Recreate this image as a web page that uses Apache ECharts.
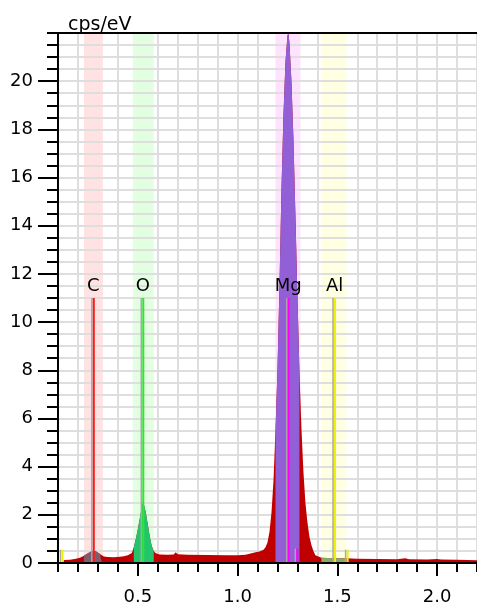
<!DOCTYPE html>
<html>
<head>
<meta charset="utf-8">
<script src="https://cdn.jsdelivr.net/npm/echarts@6/dist/echarts.min.js"></script>
<style>
  html, body { margin: 0; padding: 0; background: #fff; }
  #chart { width: 477px; height: 603px; }
</style>
</head>
<body>
<div id="chart"></div>
<script>
// spectrum (keV, cps/eV)
const energy = [0.125, 0.13, 0.16, 0.19, 0.21, 0.22, 0.23, 0.24, 0.25, 0.26, 0.27, 0.28, 0.29, 0.30, 0.31, 0.32, 0.33, 0.35, 0.38, 0.41,
  0.43, 0.45, 0.46, 0.47, 0.48, 0.49, 0.50, 0.51, 0.52, 0.527, 0.54, 0.55, 0.56, 0.57, 0.58, 0.59, 0.61, 0.65, 0.68, 0.69,
  0.70, 0.75, 0.85, 0.95, 1.00, 1.04, 1.07, 1.09, 1.11, 1.12, 1.13, 1.14, 1.15, 1.16, 1.17, 1.18, 1.19, 1.20, 1.21, 1.22,
  1.23, 1.24, 1.25, 1.255, 1.26, 1.27, 1.28, 1.29, 1.30, 1.31, 1.32, 1.33, 1.34, 1.35, 1.36, 1.37, 1.38, 1.39, 1.40, 1.42,
  1.45, 1.50, 1.545, 1.60, 1.70, 1.80, 1.84, 1.86, 1.95, 2.00, 2.02, 2.10, 2.20];
const cps = [0, 0.12, 0.14, 0.18, 0.22, 0.26, 0.30, 0.34, 0.40, 0.46, 0.50, 0.52, 0.49, 0.44, 0.37, 0.31, 0.27, 0.25, 0.24, 0.26,
  0.28, 0.32, 0.36, 0.42, 0.65, 1.0, 1.4, 1.85, 2.3, 2.55, 2.1, 1.6, 1.1, 0.7, 0.5, 0.4, 0.35, 0.34, 0.35, 0.45,
  0.36, 0.34, 0.33, 0.32, 0.32, 0.34, 0.40, 0.45, 0.48, 0.5, 0.55, 0.65, 0.85, 1.3, 2.1, 3.4, 5.5, 8.0, 11.5, 15.5,
  18.6, 20.8, 21.9, 22.0, 21.6, 20.0, 17.6, 14.4, 11.1, 8.0, 5.6, 3.8, 2.5, 1.7, 1.1, 0.75, 0.5, 0.32, 0.25, 0.22,
  0.21, 0.2, 0.2, 0.18, 0.17, 0.16, 0.2, 0.16, 0.15, 0.17, 0.15, 0.13, 0.11];

// element windows
const elements = ['C', 'O', 'Mg', 'Al'];
const bandLo = [0.23, 0.475, 1.19, 1.42];
const bandHi = [0.325, 0.58, 1.315, 1.545];
const bandColor = ['#ffe2e2', '#e2ffe2', '#ffe2ff', '#ffffe2'];
const fitColor = ['#7f5d6b', '#22c46e', '#925fd6', '#8fa66a'];

// element lines
const lineEnergy = [0.277, 0.525, 1.254, 1.486];
const lineHeight = [11, 11, 11, 11];
const lineColor = ['#ff1a1a', '#2ee62e', '#ff00ff', '#f0f000'];

// small marker lines
const markEnergy = [0.12, 1.297, 1.549];
const markHeight = [0.55, 0.6, 0.55];
const markColor = ['#f0f000', '#ff00ff', '#f0f000'];

// ticks
const xMajor = [0.5, 1.0, 1.5, 2.0];
const yMajor = [0, 2, 4, 6, 8, 10, 12, 14, 16, 18, 20];

const FONT = 'DejaVu Sans';
const spectrum = energy.map((e, i) => [e, cps[i]]);

function windowData(i) {
  return spectrum.filter(p => p[0] >= bandLo[i] - 1e-9 && p[0] <= bandHi[i] + 1e-9);
}

const chart = echarts.init(document.getElementById('chart'));

const axisBlack = { color: '#000', width: 2 };

const fitSeries = elements.map((name, i) => ({
  name: name + ' fit',
  type: 'line',
  xAxisIndex: 0,
  yAxisIndex: 0,
  data: windowData(i),
  showSymbol: false,
  lineStyle: { width: 0 },
  areaStyle: { color: fitColor[i], opacity: 1 },
  z: 3
}));

function renderLine(labels, colors) {
  return function (params, api) {
    const i = api.value(2);
    const p0 = api.coord([api.value(0), 0]);
    const p1 = api.coord([api.value(0), api.value(1)]);
    const children = [
      { type: 'line', shape: { x1: p0[0] - 1.5, y1: p0[1], x2: p1[0] - 1.5, y2: p1[1] },
        style: { stroke: '#a8a8a8', lineWidth: 1.5 } },
      { type: 'line', shape: { x1: p0[0] + 0.5, y1: p0[1], x2: p1[0] + 0.5, y2: p1[1] },
        style: { stroke: colors[i], lineWidth: 2 } }
    ];
    if (labels) {
      children.push({ type: 'text', style: { text: labels[i], x: p1[0], y: p1[1] - 3,
        align: 'center', verticalAlign: 'bottom', fontSize: 18, fontFamily: FONT, fill: '#000' } });
    }
    return { type: 'group', children: children };
  };
}

const option = {
  animation: false,
  backgroundColor: '#fff',
  title: {
    text: 'cps/eV', left: 63, top: 11,
    textStyle: { fontSize: 19, fontWeight: 'normal', fontFamily: FONT, color: '#000' }
  },
  grid: { left: 58, top: 33, right: 0, bottom: 40, outerBoundsMode: 'none', containLabel: false },
  xAxis: [
    { // vertical grid only
      type: 'value', min: 0.1, max: 2.2, interval: 0.1, position: 'bottom', z: 0,
      axisLine: { show: false }, axisTick: { show: false }, axisLabel: { show: false },
      splitLine: { show: true, lineStyle: { color: '#dedede', width: 2 } }
    },
    { // axis line + minor ticks
      type: 'value', min: 0.1, max: 2.2, interval: 0.1, position: 'bottom', z: 5,
      axisLine: { show: true, onZero: false, lineStyle: axisBlack },
      axisTick: { show: true, length: 9, lineStyle: axisBlack },
      axisLabel: { show: false }, splitLine: { show: false }
    },
    { // major ticks + labels
      type: 'value', min: 0.1, max: 2.2, position: 'bottom', z: 5,
      axisLine: { show: false },
      axisTick: { show: true, length: 13, customValues: xMajor, lineStyle: axisBlack },
      axisLabel: { show: true, customValues: xMajor, margin: 25, fontSize: 18, fontFamily: FONT, color: '#000',
        formatter: v => v.toFixed(1) },
      splitLine: { show: false }
    },
    { // top border
      type: 'value', min: 0.1, max: 2.2, position: 'top', z: 5,
      axisLine: { show: true, onZero: false, lineStyle: axisBlack },
      axisTick: { show: false }, axisLabel: { show: false }, splitLine: { show: false }
    }
  ],
  yAxis: [
    { // horizontal grid, above the bands
      type: 'value', min: 0, max: 22, interval: 0.5, position: 'left', z: 1.5,
      axisLine: { show: false }, axisTick: { show: false }, axisLabel: { show: false },
      splitLine: { show: true, lineStyle: { color: '#dedede', width: 2 } }
    },
    {
      type: 'value', min: 0, max: 22, interval: 0.5, position: 'left', z: 5,
      axisLine: { show: true, onZero: false, lineStyle: axisBlack },
      axisTick: { show: true, length: 11, lineStyle: axisBlack },
      axisLabel: { show: false }, splitLine: { show: false }
    },
    {
      type: 'value', min: 0, max: 22, position: 'left', z: 5,
      axisLine: { show: false },
      axisTick: { show: true, length: 20, customValues: yMajor, lineStyle: axisBlack },
      axisLabel: { show: true, customValues: yMajor, margin: 25, fontSize: 18, fontFamily: FONT, color: '#000' },
      splitLine: { show: false }
    }
  ],
  series: [
    {
      name: 'bands',
      type: 'custom',
      xAxisIndex: 0,
      yAxisIndex: 0,
      z: 1,
      silent: true,
      data: elements.map((n, i) => [bandLo[i], bandHi[i], i]),
      renderItem: function (params, api) {
        const a = api.coord([api.value(0), 22]);
        const b = api.coord([api.value(1), 0]);
        return { type: 'rect', shape: { x: a[0], y: a[1], width: b[0] - a[0], height: b[1] - a[1] },
          style: { fill: bandColor[api.value(2)] } };
      }
    },
    {
      name: 'spectrum',
      type: 'line',
      xAxisIndex: 0,
      yAxisIndex: 0,
      data: spectrum,
      showSymbol: false,
      lineStyle: { width: 0 },
      areaStyle: { color: '#c00000', opacity: 1 },
      z: 2
    },
    ...fitSeries,
    {
      name: 'lines',
      type: 'custom',
      xAxisIndex: 0,
      yAxisIndex: 0,
      z: 4,
      data: lineEnergy.map((e, i) => [e, lineHeight[i], i]),
      renderItem: renderLine(elements, lineColor)
    },
    {
      name: 'markers',
      type: 'custom',
      xAxisIndex: 0,
      yAxisIndex: 0,
      z: 4,
      data: markEnergy.map((e, i) => [e, markHeight[i], i]),
      renderItem: renderLine(null, markColor)
    }
  ]
};

chart.setOption(option);
</script>
</body>
</html>
